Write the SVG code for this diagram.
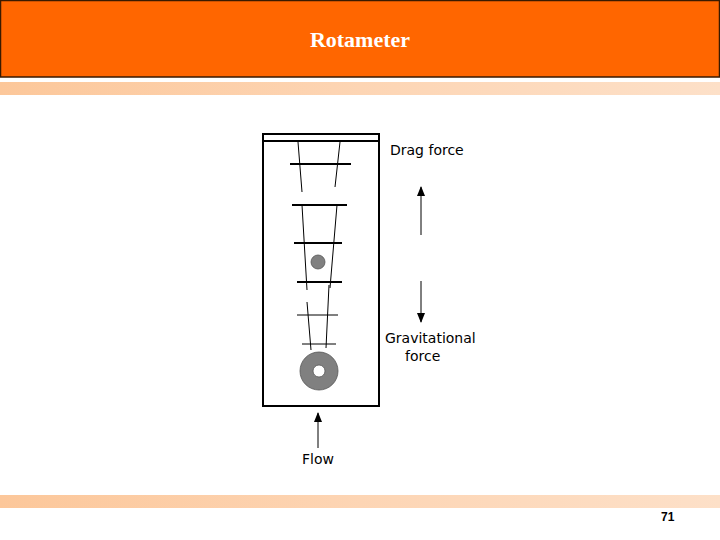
<svg xmlns="http://www.w3.org/2000/svg" width="720" height="540" viewBox="0 0 720 540">
<defs>
<linearGradient id="band" x1="0" y1="0" x2="1" y2="0">
<stop offset="0" stop-color="#fcc79a"/><stop offset="0.5" stop-color="#fdd5b4"/><stop offset="1" stop-color="#fde0c8"/>
</linearGradient>
<marker id="ah" viewBox="0 0 10 8" refX="9" refY="4" markerWidth="10" markerHeight="8" markerUnits="userSpaceOnUse" orient="auto"><path d="M0,0L10,4L0,8z" fill="#000"/></marker>
<style>
.t{stroke:#000;stroke-width:1;fill:none}
.b{stroke:#000;stroke-width:2;fill:none}
.lbl{font-family:"DejaVu Sans",Verdana,sans-serif;font-size:14px;fill:#000}
</style>
</defs>
<rect x="0" y="0" width="720" height="540" fill="#fff"/>
<rect x="0.5" y="0.5" width="719" height="76.5" fill="#ff6600" stroke="#3a1a00" stroke-width="1.5"/>
<text x="360" y="47" text-anchor="middle" font-family="Liberation Serif,serif" font-weight="bold" font-size="22" fill="#fff">Rotameter</text>
<rect x="0" y="82" width="720" height="13" fill="url(#band)"/>
<rect x="0" y="495" width="720" height="13" fill="url(#band)"/>
<g id="tube">
<rect x="263" y="134" width="116" height="272" class="b"/>
<line x1="263" y1="141" x2="379" y2="141" class="b"/>
<path class="t" d="M298,142L302,192M302,205L307,290M307,302L311,350M340,142L335,187M337,205L330,288M329,285L326,348"/>
<path class="b" d="M290,164H351M292,205H347M294,243H342M297,282H342"/>
<path class="t" d="M297,315H338M302,344H336"/>
<circle cx="318" cy="262" r="7" fill="#808080" stroke="#555" stroke-width="0.8"/>
<circle cx="319" cy="371" r="19" fill="#808080" stroke="#555" stroke-width="0.8"/>
<circle cx="319" cy="371" r="6" fill="#fff" stroke="#555" stroke-width="0.8"/>
</g>
<g id="connectors">
<line x1="421" y1="235" x2="421" y2="187" class="t" stroke-width="1.2" marker-end="url(#ah)"/>
<line x1="421" y1="281" x2="421" y2="322" class="t" stroke-width="1.2" marker-end="url(#ah)"/>
<line x1="318" y1="448" x2="318" y2="413" class="t" stroke-width="1.2" marker-end="url(#ah)"/>
</g>
<g id="labels">
<text x="390" y="155" class="lbl">Drag force</text>
<text x="385" y="343" class="lbl">Gravitational</text>
<text x="405" y="361" class="lbl">force</text>
<text x="302" y="464" class="lbl">Flow</text>
<text x="661" y="521" font-family="Liberation Sans,Arial,sans-serif" font-weight="bold" font-size="12" fill="#000">71</text>
</g>
</svg>
